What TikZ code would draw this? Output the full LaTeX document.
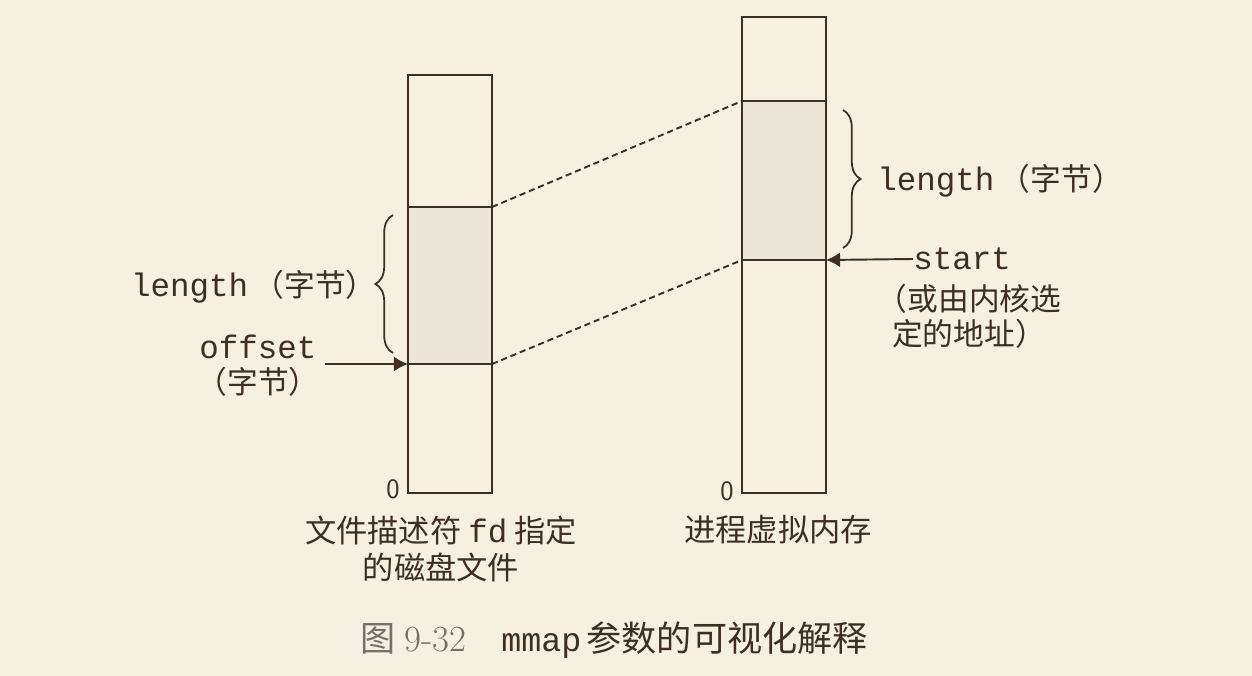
\documentclass[tikz,border=0pt]{standalone}
\usepackage{fontspec}
\setmonofont{Liberation Mono}
\newfontfamily\cjk{Noto Sans CJK SC}
\usetikzlibrary{arrows.meta,decorations.pathreplacing}
\definecolor{paper}{RGB}{245,240,226}
\definecolor{ink}{RGB}{62,46,36}
\definecolor{mapfill}{RGB}{236,231,218}
\definecolor{capgray}{RGB}{120,112,104}
\tikzstyle{column}=[ink, line width=1.1pt]
\tikzstyle{mapped}=[fill=mapfill]
\tikzstyle{link}=[ink, line width=1.1pt, dash pattern=on 3.5pt off 2.2pt]
\tikzstyle{pointer}=[ink, line width=1.1pt, -{Latex[length=8pt,width=8.5pt]}]
\tikzstyle{span}=[ink, line width=1pt, decorate, decoration={brace,amplitude=10pt}]
\tikzstyle{lbl}=[ink, inner sep=0pt, font=\fontsize{17.5}{19.8}\selectfont]
\tikzstyle{sublbl}=[ink, inner sep=0pt, align=center, font=\cjk\fontsize{17.8}{21}\selectfont]

\begin{document}
\begin{tikzpicture}[x=0.02cm,y=-0.02cm]
    \fill[paper] (0,0) rectangle (1252,676);

    % Mapped areas
    \fill[mapped] (408,207) rectangle (492,364);
    \fill[mapped] (742,101) rectangle (826,260);

    % Columns
    \draw[column] (408,75) rectangle (492,493);
    \draw[column] (742,17) rectangle (826,493);
    \draw[column] (408,207) coordinate (fhiL) -- (492,207) coordinate (fhiR);
    \draw[column] (408,364) coordinate (floL) -- (492,364) coordinate (floR);
    \draw[column] (742,101) coordinate (vhiL) -- (826,101) coordinate (vhiR);
    \draw[column] (742,260) coordinate (vloL) -- (826,260) coordinate (vloR);

    % Mapping
    \draw[link] (fhiR) -- (vhiL);
    \draw[link] (floR) -- (vloL);

    % Lengths
    \draw[span] (393,353) -- (393,215);
    \draw[span] (843,110) -- (843,248);
    \node[lbl, anchor=east] (lenfile) at (377,287) {\fontsize{18.5}{20}\ttfamily length\,{\cjk\fontsize{17.5}{20}\selectfont （字节）}};
    \node[lbl, anchor=west] (lenmem) at (877,181) {\fontsize{18.5}{20}\ttfamily length\,{\cjk\fontsize{17.5}{20}\selectfont （字节）}};

    % Offset and start
    \node[lbl, align=center] (offset) at (258,366) {\fontsize{18.5}{19.8}\ttfamily offset\\{\cjk （字节）}};
    \coordinate (offtail) at (325,364);
    \draw[pointer] (offtail) -- (floL);
    \node[lbl, anchor=west, font=\fontsize{18.5}{20}\selectfont] (start) at (913,259) {\ttfamily start};
    \draw[pointer] (start.west) -- (vloR);
    \node[lbl, align=center, font=\cjk\fontsize{17.5}{19.8}\selectfont] (kernel) at (969,316) {（或由内核选\\定的地址）};

    % Zero addresses
    \node[lbl, font=\sffamily\fontsize{16}{18}\selectfont] (filezero) at (393,489) {0};
    \node[lbl, font=\sffamily\fontsize{16}{18}\selectfont] (memzero) at (727,491) {0};

    % Titles
    \node[sublbl] (filename) at (441,549) {文件描述符 {\ttfamily\fontsize{18.5}{21}\selectfont fd} 指定\\的磁盘文件};
    \node[sublbl] (memname) at (778,530) {进程虚拟内存};
    \node[lbl, anchor=west] (caption) at (360,640) {{\color{capgray}\cjk\fontsize{20}{22}\selectfont 图}\hspace{5pt}{\color{capgray}\fontsize{21}{22}\selectfont 9-32}\hspace{20pt}{\ttfamily\fontsize{19}{20}\selectfont mmap}\,{\cjk\fontsize{20}{22}\selectfont 参数的可视化解释}};
\end{tikzpicture}
\end{document}
